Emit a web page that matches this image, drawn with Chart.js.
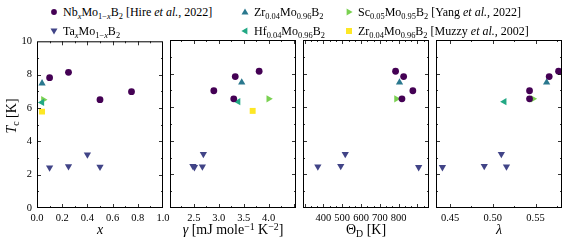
<!DOCTYPE html>
<html>
<head>
<meta charset="utf-8">
<script src="https://cdn.jsdelivr.net/npm/chart.js@4"></script>
<style>
  body { margin: 0; background: #fff; }
  #wrap { position: relative; width: 568px; height: 244px; overflow: hidden;
          font-family: "Liberation Serif", serif; color: #000; }
  canvas { position: absolute; }
  .ttl { position: absolute; font-size: 14px; line-height: 16px; white-space: nowrap; transform: translateX(-50%); }
  .leg { position: absolute; font-size: 12px; line-height: 14px; white-space: nowrap; }
  .leg svg { position: absolute; }
  sub { font-size: 0.7em; vertical-align: -0.3em; line-height: 0; }
  sup { font-size: 0.7em; vertical-align: 0.45em; line-height: 0; }
</style>
</head>
<body>
<div id="wrap"></div>
<script>
// T_c [K] against x, gamma, Theta_D and lambda
const tcNb     = [7.82, 8.14, 6.50, 6.98];
const xNb      = [0.10, 0.25, 0.50, 0.75];
const gammaNb  = [3.33, 3.81, 3.30, 2.90];
const thetaNb  = [827, 784, 818, 876];
const lambdaNb = [0.566, 0.577, 0.543, 0.543];

const tcTa     = [2.43, 2.50, 3.21, 2.47];
const xTa      = [0.10, 0.25, 0.40, 0.50];
const gammaTa  = [2.51, 2.48, 2.69, 2.67];
const thetaTa  = [907, 492, 516, 370];
const lambdaTa = [0.441, 0.490, 0.510, 0.516];

// single compounds: Zr, Hf, Sc, Zr (Muzzy)
const tcDoped     = [7.48, 6.33, 6.50, 5.78];
const xDoped      = [0.04, 0.04, 0.05, 0.04];
const gammaDoped  = [3.46, 3.39, 4.00, 3.68];
const thetaDoped  = [805, null, 788, null];
const lambdaDoped = [0.563, 0.5135, 0.547, null];

const seriesNames = [
  'Nb<sub><i>x</i></sub>Mo<sub>1−<i>x</i></sub>B<sub>2</sub> [Hire <i>et al.</i>, 2022]',
  'Ta<sub><i>x</i></sub>Mo<sub>1−<i>x</i></sub>B<sub>2</sub>',
  'Zr<sub>0.04</sub>Mo<sub>0.96</sub>B<sub>2</sub>',
  'Hf<sub>0.04</sub>Mo<sub>0.96</sub>B<sub>2</sub>',
  'Sc<sub>0.05</sub>Mo<sub>0.95</sub>B<sub>2</sub> [Yang <i>et al.</i>, 2022]',
  'Zr<sub>0.04</sub>Mo<sub>0.96</sub>B<sub>2</sub> [Muzzy <i>et al.</i>, 2002]'
];

const yTickLabels = [0, 2, 4, 6, 8, 10];
const xTickLabels = [
  [0.0, 0.2, 0.4, 0.6, 0.8, 1.0],
  [2.5, 3.0, 3.5, 4.0],
  [400, 500, 600, 700, 800],
  [0.45, 0.50, 0.55]
];
const xTitles = [
  '<i>x</i>',
  '<i>γ</i> [mJ mole<sup>−1</sup> K<sup>−2</sup>]',
  'Θ<sub>D</sub> [K]',
  '<i>λ</i>'
];

// styling
const colors = ['#440154', '#414487', '#2a788e', '#22a884', '#7ad151', '#fde725'];
const styles = ['circle', 'triangle', 'triangle', 'triangle', 'triangle', 'rect'];
const rots   = [0, 180, 0, -90, 90, 0];
const radii  = [3.4, 4.2, 4.2, 4.2, 4.2, 4.2];

const xRange = [[0, 1], [2.02, 4.55], [291, 962], [0.4335, 0.581]];
const xMajorStep = [0.2, 0.5, 100, 0.05];
const xMinorStep = [0.1, 0.25, 100 / 3, 0.025];
const fmt = [v => v.toFixed(1), v => v.toFixed(1), v => String(v), v => v.toFixed(2)];

const plotLeft = [37, 170, 303, 436];
const plotW = 126, plotTop = 40, plotH = 168;

function pairs(xs, ys) {
  const out = [];
  xs.forEach((v, i) => { if (v !== null) out.push({ x: v, y: ys[i] }); });
  return out;
}

function seriesFor(p) {
  const keys = [
    [xNb, gammaNb, thetaNb, lambdaNb],
    [xTa, gammaTa, thetaTa, lambdaTa]
  ];
  const doped = [xDoped, gammaDoped, thetaDoped, lambdaDoped][p];
  const list = [pairs(keys[0][p], tcNb), pairs(keys[1][p], tcTa)];
  for (let k = 0; k < 4; k++) list.push(pairs([doped[k]], [tcDoped[k]]));
  return list;
}

function steps(min, max, step) {
  const out = [];
  const start = Math.ceil(min / step - 1e-6);
  for (let k = start; k * step <= max + 1e-9; k++) out.push(k * step);
  return out;
}

const frameTicks = {
  id: 'frameTicks',
  afterDraw(chart) {
    const { ctx, chartArea: a, scales } = chart;
    const o = chart.options.plugins.frameTicks;
    ctx.save();
    ctx.strokeStyle = '#000';
    ctx.lineWidth = 0.8;
    const xt = (vals, len) => vals.forEach(v => {
      const px = Math.round(scales.x.getPixelForValue(v)) + 0.5;
      if (px < a.left + 1.5 || px > a.right - 1.5) return;
      ctx.beginPath();
      ctx.moveTo(px, a.bottom); ctx.lineTo(px, a.bottom - len);
      ctx.moveTo(px, a.top); ctx.lineTo(px, a.top + len);
      ctx.stroke();
    });
    const yt = (vals, len) => vals.forEach(v => {
      const py = Math.round(scales.y.getPixelForValue(v)) + 0.5;
      if (py < a.top + 1.5 || py > a.bottom - 1.5) return;
      ctx.beginPath();
      ctx.moveTo(a.left, py); ctx.lineTo(a.left + len, py);
      ctx.moveTo(a.right, py); ctx.lineTo(a.right - len, py);
      ctx.stroke();
    });
    xt(o.xMajor, 4); xt(o.xMinor, 2);
    yt(o.yMajor, 4); yt(o.yMinor, 2);
    ctx.lineWidth = 1;
    ctx.strokeRect(a.left + 0.5, a.top + 0.5, a.right - a.left - 1, a.bottom - a.top - 1);
    ctx.restore();
  }
};

const wrap = document.getElementById('wrap');
const tickFont = { family: 'Liberation Serif', size: 10.5 };

for (let p = 0; p < 4; p++) {
  const padL = p === 0 ? 0 : 12, padR = 12, yW = p === 0 ? 37 : 0;
  const canvas = document.createElement('canvas');
  const w = yW + padL + plotW + padR, h = 10 + plotH + 18;
  canvas.width = w; canvas.height = h;
  canvas.style.left = (plotLeft[p] - yW - padL) + 'px';
  canvas.style.top = (plotTop - 10) + 'px';
  canvas.style.width = w + 'px'; canvas.style.height = h + 'px';
  wrap.appendChild(canvas);

  const data = seriesFor(p);
  const majors = steps(xRange[p][0], xRange[p][1], xMajorStep[p]);
  const minors = steps(xRange[p][0], xRange[p][1], xMinorStep[p])
    .filter(v => !majors.some(m => Math.abs(m - v) < 1e-6));

  new Chart(canvas, {
    type: 'scatter',
    data: {
      datasets: data.map((d, i) => ({
        data: d,
        backgroundColor: colors[i],
        borderWidth: 0,
        pointStyle: styles[i],
        rotation: rots[i],
        pointRadius: radii[i]
      }))
    },
    options: {
      responsive: false,
      animation: false,
      events: [],
      devicePixelRatio: 1,
      layout: { padding: { left: padL, right: padR, top: 10, bottom: 0 } },
      plugins: {
        legend: { display: false },
        tooltip: { enabled: false },
        frameTicks: {
          xMajor: majors, xMinor: minors,
          yMajor: yTickLabels, yMinor: [1, 3, 5, 7, 9]
        }
      },
      scales: {
        x: {
          type: 'linear', min: xRange[p][0], max: xRange[p][1],
          grid: { display: false, drawTicks: false },
          border: { display: false },
          afterBuildTicks: s => { s.ticks = xTickLabels[p].map(v => ({ value: v })); },
          afterFit: s => { s.height = 18; },
          ticks: { autoSkip: false, maxRotation: 0, padding: 4, color: '#000', font: tickFont,
                   callback: v => fmt[p](v) }
        },
        y: {
          type: 'linear', min: 0, max: 10, display: p === 0,
          grid: { display: false, drawTicks: false },
          border: { display: false },
          afterBuildTicks: s => { s.ticks = yTickLabels.map(v => ({ value: v })); },
          afterFit: s => { s.width = yW; },
          ticks: { padding: 5, color: '#000', font: tickFont, callback: v => String(v) }
        }
      }
    },
    plugins: [frameTicks]
  });

  const t = document.createElement('div');
  t.className = 'ttl';
  t.innerHTML = xTitles[p];
  t.style.left = (plotLeft[p] + plotW / 2) + 'px';
  t.style.top = '222px';
  wrap.appendChild(t);
}

// y title
const yt = document.createElement('div');
yt.className = 'ttl';
yt.innerHTML = '<i>T</i><sub>c</sub> [K]';
yt.style.left = '12px';
yt.style.top = '108px';
yt.style.transform = 'translateX(-50%) rotate(-90deg)';
wrap.appendChild(yt);

// legend
function markerSvg(i) {
  const c = colors[i], s = 10;
  let shape;
  if (styles[i] === 'circle') shape = `<circle cx="5" cy="5" r="2.9" fill="${c}"/>`;
  else if (styles[i] === 'rect') shape = `<rect x="2" y="2" width="6" height="6" fill="${c}"/>`;
  else shape = `<polygon points="5,1.4 8.5,7.4 1.5,7.4" fill="${c}" transform="rotate(${rots[i]} 5 5)"/>`;
  return `<svg width="${s}" height="${s}" style="left:-14px;top:2px">${shape}</svg>`;
}
const legCol = [63, 254, 358];
const legRow = [5, 24];
seriesNames.forEach((name, i) => {
  const d = document.createElement('div');
  d.className = 'leg';
  d.style.left = legCol[Math.floor(i / 2)] + 'px';
  d.style.top = legRow[i % 2] + 'px';
  d.innerHTML = markerSvg(i) + name;
  wrap.appendChild(d);
});
</script>
</body>
</html>
